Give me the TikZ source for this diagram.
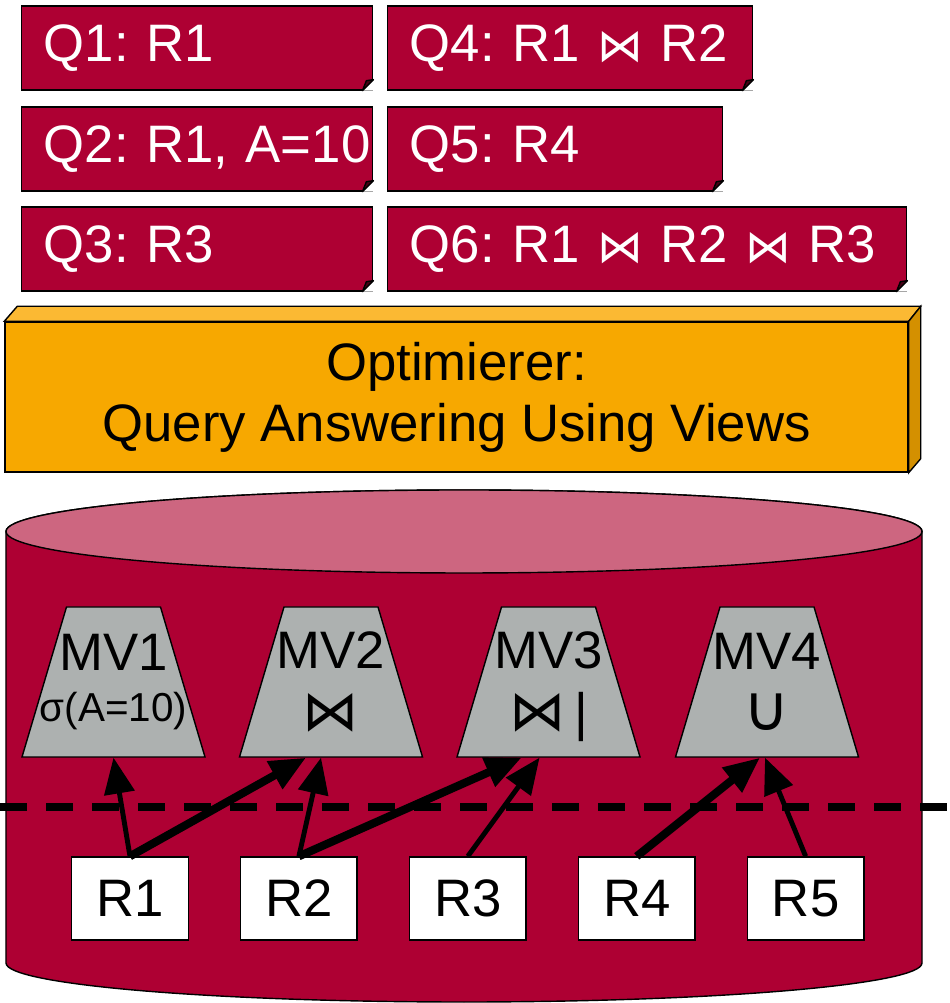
\documentclass[tikz,border=0pt]{standalone}
\usepackage{fontspec}
\setmainfont{Liberation Sans}
\newfontfamily\joinfont{DejaVu Sans}
\usetikzlibrary{arrows.meta,positioning}

\definecolor{dbred}{RGB}{174,0,51}
\definecolor{dbtop}{RGB}{205,102,128}
\definecolor{viewgray}{RGB}{173,177,176}
\definecolor{optfront}{RGB}{247,168,0}
\definecolor{opttop}{RGB}{251,185,51}
\definecolor{optside}{RGB}{212,144,0}

\newcommand\bigsans{\fontsize{15}{17.4}\selectfont\frenchspacing}
\newcommand\qjoin{{\joinfont\fontsize{13}{15}\selectfont ⋈}}

\begin{document}
\begin{tikzpicture}[
  query/.style={draw, fill=dbred, text=white, font=\bigsans, anchor=west,
    minimum height=0.84cm, inner xsep=0.22cm, align=left},
  fold/.style={draw, fill=dbred!40!black, line join=round},
  optbox/.style={draw, fill=optfront, font=\bigsans, align=center,
    minimum width=9.03cm, minimum height=1.5cm},
  view/.style={draw, fill=viewgray},
  viewlabel/.style={font=\bigsans, align=center, minimum width=1.83cm,
    minimum height=1.5cm, inner sep=0pt},
  rel/.style={draw, fill=white, font=\bigsans, minimum width=1.165cm,
    minimum height=0.83cm},
  link/.style={-{Triangle[length=0.36cm,width=0.3cm]}, line width=1.4pt},
  fatlink/.style={link, line width=2.3pt},
]

\useasboundingbox (0,0) rectangle (9.49,10.03);

% queries
\node[query, text width=3.07cm] (q1) at (0.21,9.55) {Q1:~R1};
\node[query, text width=3.07cm] (q2) at (0.21,8.54) {Q2:~R1,~A=10};
\node[query, text width=3.07cm] (q3) at (0.21,7.54) {Q3:~R3};
\node[query, text width=3.21cm] (q4) at (3.87,9.55) {Q4:~R1~\qjoin~R2};
\node[query, text width=2.91cm] (q5) at (3.87,8.54) {Q5:~R4};
\node[query, text width=4.75cm] (q6) at (3.87,7.54) {Q6:~R1~\qjoin~R2~\qjoin~R3};

\fill[white] (q1.south east) -- ++(-0.11,0) -- ++(0.11,0.11) -- cycle;
\draw[fold] ([xshift=-0.11cm]q1.south east) -- ++(0.11,0.11) -- ++(-0.07,-0.01) -- cycle;
\fill[white] (q2.south east) -- ++(-0.11,0) -- ++(0.11,0.11) -- cycle;
\draw[fold] ([xshift=-0.11cm]q2.south east) -- ++(0.11,0.11) -- ++(-0.07,-0.01) -- cycle;
\fill[white] (q3.south east) -- ++(-0.11,0) -- ++(0.11,0.11) -- cycle;
\draw[fold] ([xshift=-0.11cm]q3.south east) -- ++(0.11,0.11) -- ++(-0.07,-0.01) -- cycle;
\fill[white] (q4.south east) -- ++(-0.11,0) -- ++(0.11,0.11) -- cycle;
\draw[fold] ([xshift=-0.11cm]q4.south east) -- ++(0.11,0.11) -- ++(-0.07,-0.01) -- cycle;
\fill[white] (q5.south east) -- ++(-0.11,0) -- ++(0.11,0.11) -- cycle;
\draw[fold] ([xshift=-0.11cm]q5.south east) -- ++(0.11,0.11) -- ++(-0.07,-0.01) -- cycle;
\fill[white] (q6.south east) -- ++(-0.11,0) -- ++(0.11,0.11) -- cycle;
\draw[fold] ([xshift=-0.11cm]q6.south east) -- ++(0.11,0.11) -- ++(-0.07,-0.01) -- cycle;

% optimizer block
\node[optbox] (opt) at (4.565,6.06) {Optimierer:\\Query Answering Using Views};
\draw[fill=opttop] (opt.north west) -- ++(0.13,0.15) -- ([shift={(0.12,0.15)}]opt.north east) -- (opt.north east) -- cycle;
\draw[fill=optside] (opt.north east) -- ++(0.12,0.15) -- ([shift={(0.12,0.14)}]opt.south east) -- (opt.south east) -- cycle;

% database
\draw[fill=dbred] (0.06,4.715) -- (0.06,0.40) arc[start angle=180, end angle=360, x radius=4.58, y radius=0.39]
  -- (9.22,4.715) arc[start angle=0, end angle=180, x radius=4.58, y radius=0.415] -- cycle;
\draw[fill=dbtop] (4.64,4.715) ellipse [x radius=4.58, y radius=0.415];

\draw[line width=2pt, dash pattern=on 0.27cm off 0.19cm] (0,1.96) -- (9.49,1.96);

% views
\draw[view, shift={(1.135,2.46)}] (-0.915,0) -- (0.915,0) -- (0.47,1.5) -- (-0.47,1.5) -- cycle;
\draw[view, shift={(3.31,2.46)}] (-0.915,0) -- (0.915,0) -- (0.47,1.5) -- (-0.47,1.5) -- cycle;
\draw[view, shift={(5.485,2.46)}] (-0.915,0) -- (0.915,0) -- (0.47,1.5) -- (-0.47,1.5) -- cycle;
\draw[view, shift={(7.67,2.46)}] (-0.915,0) -- (0.915,0) -- (0.47,1.5) -- (-0.47,1.5) -- cycle;

\node[viewlabel] (mv1) at (1.135,3.21) {MV1\\[-0.1cm]{\fontsize{11.5}{13}\selectfont σ(A=10)}};
\node[viewlabel] (mv2) at (3.31,3.21) {MV2\\{\joinfont\fontsize{16}{17}\selectfont ⋈}};
\node[viewlabel] (mv3) at (5.485,3.21) {MV3\\{\joinfont\fontsize{16}{17}\selectfont ⋈}\,\smash{|}};
\node[viewlabel] (mv4) at (7.67,3.21) {MV4\\{\joinfont\fontsize{18}{17}\selectfont ∪}};

% base relations
\node[rel] (r1) at (1.30,1.045) {R1};
\node[rel, right=0.51cm of r1] (r2) {R2};
\node[rel, right=0.51cm of r2] (r3) {R3};
\node[rel, right=0.51cm of r3] (r4) {R4};
\node[rel, right=0.51cm of r4] (r5) {R5};

\draw[link] (r1.north) -- (mv1.south);
\draw[fatlink] (r1.north) -- ([xshift=-0.25cm]mv2.south);
\draw[link] (r2.north) -- ([xshift=-0.1cm]mv2.south);
\draw[fatlink] (r2.north) -- ([xshift=-0.27cm]mv3.south);
\draw[link] (r3.north) -- ([xshift=-0.09cm]mv3.south);
\draw[fatlink] (r4.north) -- ([xshift=-0.07cm]mv4.south);
\draw[link] (r5.north) -- ([xshift=-0.02cm]mv4.south);

\end{tikzpicture}
\end{document}
